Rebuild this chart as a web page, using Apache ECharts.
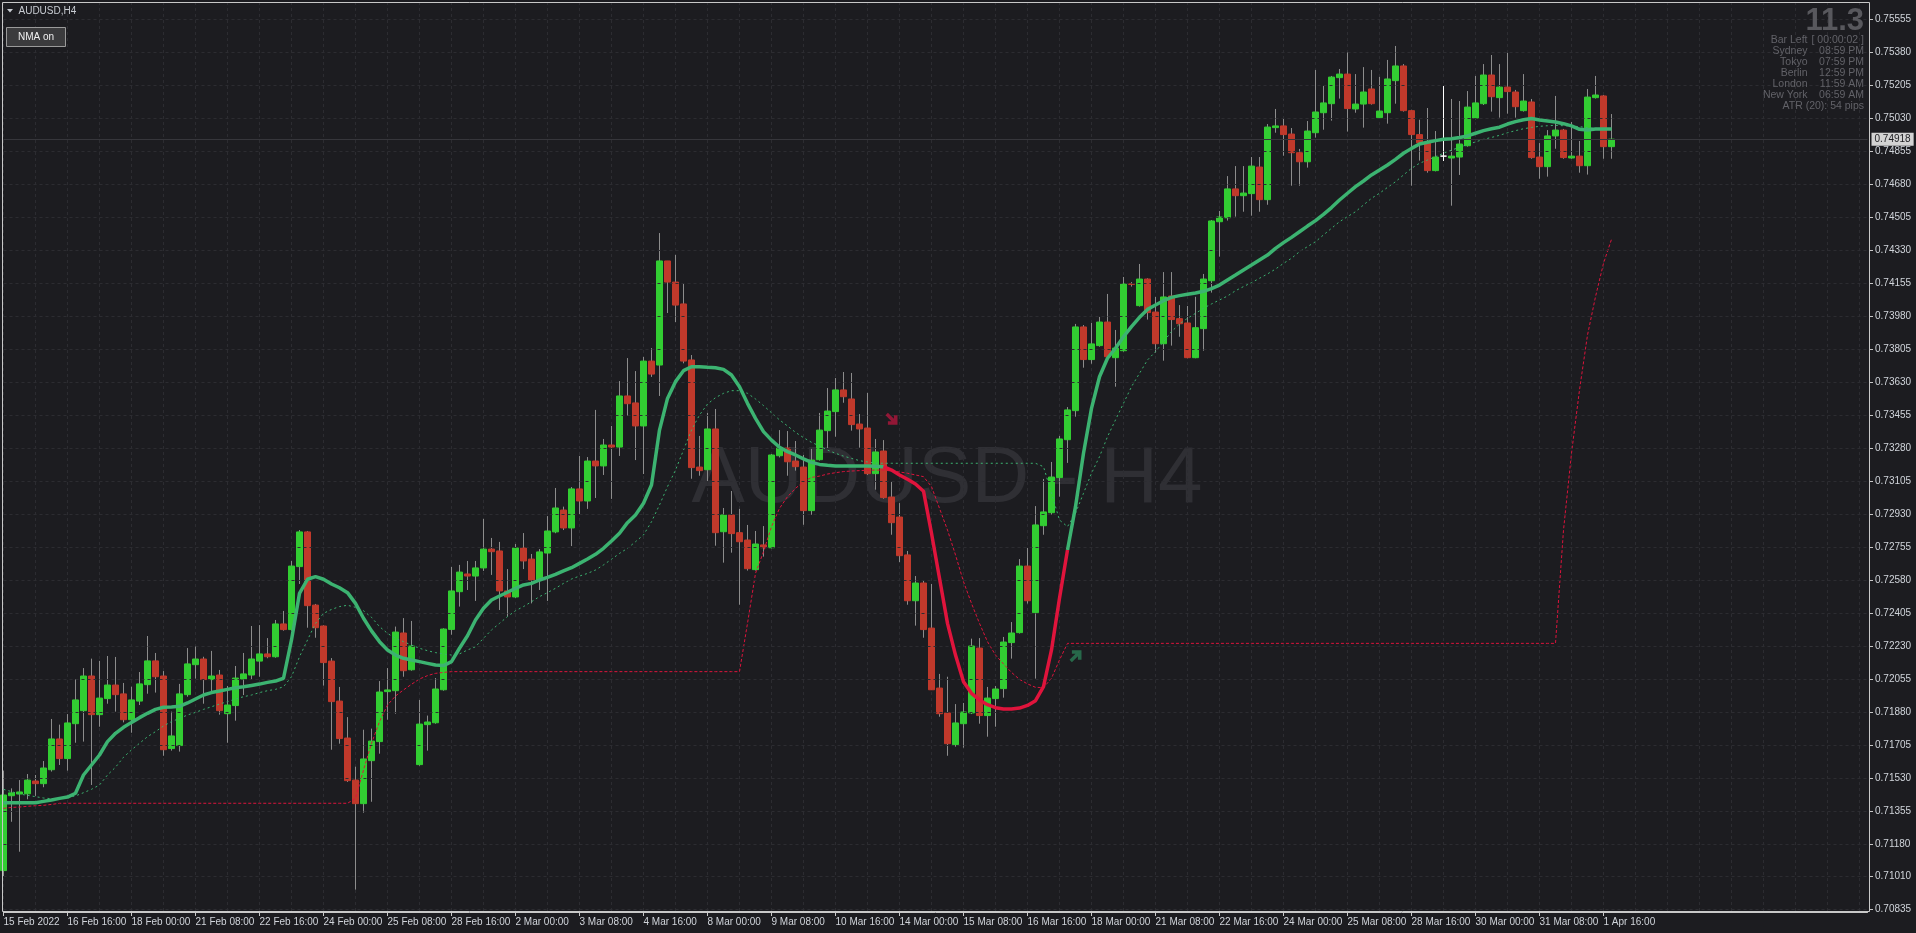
<!DOCTYPE html>
<html>
<head>
<meta charset="utf-8">
<script src="https://cdn.jsdelivr.net/npm/echarts@6/dist/echarts.min.js"></script>
<style>
html,body{margin:0;padding:0;background:#1c1c20;overflow:hidden}
#c{width:1916px;height:933px}
</style>
</head>
<body>
<div id="c"></div>
<script>
// ---------- DATA ----------
const tickLabels = ['15 Feb 2022','16 Feb 16:00','18 Feb 00:00','21 Feb 08:00','22 Feb 16:00','24 Feb 00:00','25 Feb 08:00','28 Feb 16:00','2 Mar 00:00','3 Mar 08:00','4 Mar 16:00','8 Mar 00:00','9 Mar 08:00','10 Mar 16:00','14 Mar 00:00','15 Mar 08:00','16 Mar 16:00','18 Mar 00:00','21 Mar 08:00','22 Mar 16:00','24 Mar 00:00','25 Mar 08:00','28 Mar 16:00','30 Mar 00:00','31 Mar 08:00','1 Apr 16:00'];

const yTicks = [0.75555,0.75380,0.75205,0.75030,0.74855,0.74680,0.74505,0.74330,0.74155,0.73980,0.73805,0.73630,0.73455,0.73280,0.73105,0.72930,0.72755,0.72580,0.72405,0.72230,0.72055,0.71880,0.71705,0.71530,0.71355,0.71180,0.71010,0.70835];

const opens = [
0.71039,0.71436,0.71445,0.71446,0.71514,0.71500,0.71574,0.71737,0.71633,0.71818,
0.71887,0.72071,0.71866,0.71951,0.72023,0.71976,0.71839,0.71938,0.72025,0.72151,
0.72071,0.71686,0.71702,0.71972,0.72131,0.72161,0.72052,0.72076,0.71871,0.71914,
0.72055,0.72076,0.72150,0.72188,0.72173,0.72347,0.72317,0.72651,0.72835,0.72447,
0.72336,0.72150,0.71938,0.71742,0.71519,0.71394,0.71622,0.71723,0.71988,0.71993,
0.72299,0.72104,0.71601,0.71813,0.71823,0.71998,0.72318,0.72518,0.72612,0.72601,
0.72644,0.72744,0.72734,0.72522,0.72490,0.72750,0.72691,0.72580,0.72723,0.72835,
0.72951,0.72856,0.73063,0.72999,0.73211,0.73185,0.73296,0.73285,0.73556,0.73519,
0.73397,0.73741,0.73720,0.74272,0.74160,0.74044,0.73747,0.73179,0.73165,0.73381,
0.72836,0.72925,0.72831,0.72792,0.72635,0.72766,0.72751,0.73239,0.73280,0.73211,
0.73179,0.72948,0.73218,0.73372,0.73473,0.73588,0.73540,0.73407,0.73386,0.73144,
0.73264,0.73020,0.72914,0.72713,0.72470,0.72564,0.72325,0.72007,0.71875,0.71707,
0.71818,0.71875,0.72219,0.71861,0.71951,0.72004,0.72248,0.72301,0.72654,0.72407,
0.72868,0.72937,0.73123,0.73324,0.73478,0.73922,0.73749,0.73823,0.73948,0.73759,
0.73796,0.74150,0.74035,0.74176,0.74001,0.73833,0.74086,0.73966,0.73943,0.73759,
0.73913,0.74167,0.74480,0.74501,0.74654,0.74618,0.74629,0.74770,0.74597,0.74979,
0.74988,0.74945,0.74846,0.74798,0.74952,0.75058,0.75106,0.75244,0.75263,0.75078,
0.75104,0.75184,0.75032,0.75058,0.75228,0.75306,0.75069,0.74942,0.74899,0.74751,
0.74828,0.74818,0.74823,0.74883,0.75030,0.75106,0.75258,0.75138,0.75194,0.75168,
0.75069,0.75115,0.74823,0.74772,0.74935,0.74966,0.74818,0.74828,0.74777,0.75138,
0.75147,0.74878];

const highs = [
0.71569,0.71475,0.71519,0.71551,0.71546,0.71620,0.71843,0.71813,0.71869,0.72055,
0.72113,0.72163,0.72151,0.72177,0.72172,0.72034,0.72014,0.72092,0.72283,0.72193,
0.72097,0.71882,0.72029,0.72219,0.72230,0.72173,0.72204,0.72103,0.72018,0.72124,
0.72193,0.72336,0.72341,0.72272,0.72368,0.72416,0.72681,0.72845,0.72840,0.72453,
0.72340,0.72166,0.72013,0.71853,0.71590,0.71786,0.71792,0.72044,0.72113,0.72333,
0.72378,0.72363,0.71944,0.71861,0.72060,0.72324,0.72649,0.72660,0.72681,0.72681,
0.72904,0.72803,0.72782,0.72638,0.72771,0.72829,0.72718,0.72744,0.72919,0.73068,
0.72969,0.73073,0.73238,0.73232,0.73482,0.73328,0.73397,0.73635,0.73757,0.73688,
0.73763,0.73810,0.74420,0.74272,0.74304,0.74150,0.73773,0.73344,0.73466,0.73487,
0.72962,0.73052,0.72957,0.72872,0.72840,0.72866,0.73248,0.73375,0.73370,0.73317,
0.73243,0.73275,0.73466,0.73598,0.73651,0.73683,0.73678,0.73460,0.73572,0.73328,
0.73322,0.73100,0.72988,0.72734,0.72601,0.72575,0.72559,0.72082,0.72067,0.71922,
0.71928,0.72269,0.72272,0.72013,0.72018,0.72278,0.72357,0.72691,0.72750,0.72972,
0.73116,0.73206,0.73344,0.73497,0.73938,0.73932,0.73943,0.73975,0.74097,0.73906,
0.74187,0.74160,0.74256,0.74180,0.74081,0.74213,0.74213,0.74038,0.74033,0.74082,
0.74203,0.74489,0.74537,0.74722,0.74775,0.74775,0.74823,0.74823,0.74998,0.75078,
0.75025,0.74977,0.74866,0.75014,0.75285,0.75200,0.75253,0.75290,0.75380,0.75263,
0.75300,0.75285,0.75248,0.75338,0.75412,0.75316,0.75074,0.75021,0.75083,0.74961,
0.75200,0.75131,0.75120,0.75173,0.75253,0.75316,0.75364,0.75316,0.75375,0.75179,
0.75263,0.75131,0.74897,0.74966,0.75147,0.74972,0.75009,0.74908,0.75184,0.75253,
0.75152,0.75051];

const lows = [
0.71010,0.71298,0.71139,0.71417,0.71435,0.71481,0.71564,0.71599,0.71569,0.71717,
0.71723,0.71493,0.71802,0.71924,0.71882,0.71825,0.71770,0.71917,0.71977,0.71983,
0.71648,0.71675,0.71670,0.71961,0.72057,0.71924,0.71983,0.71866,0.71717,0.71834,
0.71970,0.72055,0.72067,0.72165,0.72168,0.72311,0.72311,0.72559,0.72327,0.72274,
0.72020,0.71680,0.71712,0.71509,0.70938,0.71346,0.71404,0.71659,0.71839,0.71871,
0.72067,0.72099,0.71595,0.71675,0.71818,0.71993,0.72290,0.72439,0.72527,0.72469,
0.72628,0.72607,0.72421,0.72386,0.72485,0.72638,0.72456,0.72527,0.72469,0.72828,
0.72845,0.72760,0.72930,0.72957,0.73015,0.73137,0.73010,0.73238,0.73450,0.73216,
0.73142,0.73657,0.73556,0.73996,0.73948,0.73729,0.73117,0.73133,0.73101,0.72762,
0.72672,0.72725,0.72449,0.72630,0.72630,0.72704,0.72748,0.73230,0.73133,0.73160,
0.72873,0.72926,0.73213,0.73276,0.73340,0.73520,0.73372,0.73282,0.73137,0.73059,
0.73011,0.72820,0.72675,0.72449,0.72338,0.72274,0.71997,0.71855,0.71648,0.71696,
0.71691,0.71869,0.71818,0.71749,0.71802,0.71956,0.72163,0.72296,0.72455,0.72057,
0.72820,0.72927,0.73022,0.73201,0.73446,0.73706,0.73727,0.73817,0.73759,0.73605,
0.73791,0.74136,0.74030,0.73961,0.73786,0.73743,0.73823,0.73870,0.73756,0.73756,
0.73796,0.74104,0.74295,0.74486,0.74507,0.74533,0.74512,0.74533,0.74570,0.74952,
0.74830,0.74671,0.74671,0.74767,0.74926,0.74968,0.75016,0.75133,0.74958,0.75058,
0.74979,0.75101,0.75027,0.75000,0.75106,0.75064,0.74671,0.74804,0.74740,0.74747,
0.74802,0.74565,0.74728,0.74878,0.75023,0.75099,0.75064,0.75032,0.75053,0.75032,
0.75064,0.74814,0.74708,0.74719,0.74867,0.74814,0.74814,0.74740,0.74730,0.75133,
0.74814,0.74814];

const closes = [
0.71440,0.71451,0.71456,0.71519,0.71500,0.71583,0.71737,0.71633,0.71822,0.71944,
0.72071,0.71866,0.71954,0.72023,0.71972,0.71839,0.71944,0.72029,0.72151,0.72067,
0.71680,0.71753,0.71976,0.72135,0.72161,0.72052,0.72071,0.71887,0.71917,0.72060,
0.72082,0.72161,0.72188,0.72173,0.72347,0.72317,0.72654,0.72835,0.72444,0.72327,
0.72142,0.71935,0.71739,0.71516,0.71394,0.71631,0.71726,0.71986,0.71997,0.72304,
0.72099,0.72230,0.71816,0.71827,0.72002,0.72320,0.72522,0.72622,0.72601,0.72644,
0.72744,0.72730,0.72522,0.72490,0.72750,0.72681,0.72580,0.72729,0.72840,0.72962,
0.72856,0.73063,0.72999,0.73211,0.73185,0.73296,0.73285,0.73556,0.73515,0.73397,
0.73741,0.73672,0.74272,0.74160,0.74038,0.73741,0.73176,0.73160,0.73381,0.72831,
0.72925,0.72826,0.72783,0.72640,0.72771,0.72751,0.73243,0.73280,0.73207,0.73181,
0.72948,0.73216,0.73375,0.73476,0.73588,0.73552,0.73404,0.73381,0.73144,0.73259,
0.73017,0.72884,0.72709,0.72470,0.72564,0.72317,0.71998,0.71871,0.71712,0.71822,
0.71880,0.72230,0.71861,0.71954,0.72002,0.72251,0.72299,0.72654,0.72470,0.72872,
0.72941,0.73126,0.73328,0.73482,0.73922,0.73749,0.73832,0.73948,0.73764,0.73810,
0.74150,0.74148,0.74176,0.73998,0.73833,0.74081,0.73961,0.73939,0.73759,0.73918,
0.74176,0.74484,0.74505,0.74654,0.74618,0.74632,0.74775,0.74597,0.74982,0.74988,
0.74942,0.74846,0.74798,0.74961,0.75062,0.75110,0.75247,0.75263,0.75080,0.75104,
0.75168,0.75106,0.75067,0.75237,0.75306,0.75069,0.74942,0.74899,0.74751,0.74823,
0.74828,0.74828,0.74892,0.75088,0.75110,0.75258,0.75143,0.75194,0.75170,0.75090,
0.75120,0.74820,0.74772,0.74935,0.74966,0.74820,0.74828,0.74777,0.75141,0.75152,
0.74878,0.74918];

// NMA (thick line)
const nma = [
0.71399,0.71399,0.71399,0.71399,0.71399,0.71406,0.71413,0.71422,0.71429,0.71449,
0.71546,0.71599,0.71652,0.71723,0.71767,0.71799,0.71825,0.71850,0.71873,0.71894,
0.71905,0.71907,0.71910,0.71928,0.71949,0.71970,0.71983,0.71991,0.72000,0.72009,
0.72014,0.72021,0.72028,0.72037,0.72044,0.72059,0.72262,0.72509,0.72584,0.72598,
0.72584,0.72559,0.72539,0.72513,0.72456,0.72377,0.72310,0.72253,0.72209,0.72182,
0.72165,0.72156,0.72147,0.72138,0.72129,0.72126,0.72147,0.72218,0.72284,0.72368,
0.72430,0.72474,0.72495,0.72515,0.72536,0.72554,0.72562,0.72580,0.72594,0.72610,
0.72628,0.72645,0.72668,0.72691,0.72716,0.72748,0.72787,0.72828,0.72884,0.72925,
0.72987,0.73084,0.73375,0.73543,0.73632,0.73690,0.73711,0.73711,0.73708,0.73706,
0.73697,0.73667,0.73605,0.73517,0.73437,0.73367,0.73322,0.73284,0.73261,0.73243,
0.73222,0.73204,0.73193,0.73188,0.73185,0.73185,0.73185,0.73185,0.73185,0.73183,
0.73181,0.73163,0.73137,0.73114,0.73089,0.73051,0.72828,0.72589,0.72350,0.72182,
0.72041,0.71979,0.71944,0.71919,0.71903,0.71896,0.71896,0.71901,0.71915,0.71940,
0.72014,0.72209,0.72483,0.72739,0.72969,0.73252,0.73490,0.73658,0.73756,0.73809,
0.73870,0.73924,0.73973,0.74015,0.74038,0.74061,0.74079,0.74088,0.74095,0.74102,
0.74111,0.74125,0.74144,0.74171,0.74197,0.74224,0.74250,0.74277,0.74303,0.74339,
0.74369,0.74397,0.74427,0.74457,0.74486,0.74519,0.74555,0.74595,0.74631,0.74666,
0.74696,0.74728,0.74754,0.74781,0.74811,0.74843,0.74869,0.74892,0.74901,0.74910,
0.74917,0.74920,0.74927,0.74935,0.74949,0.74963,0.74973,0.74981,0.74998,0.75011,
0.75021,0.75027,0.75019,0.75014,0.75009,0.75000,0.74988,0.74970,0.74966,0.74972,
0.74972,0.74972];
const nmaDownFrom = 110;   // first bar of the falling (red) phase
const nmaDownTo = 133;     // last bar of the falling (red) phase

// NMA signal (thin dashed)
const nmaSignal = [
0.71470,0.71458,0.71445,0.71438,0.71431,0.71424,0.71420,0.71422,0.71428,0.71435,
0.71452,0.71470,0.71493,0.71546,0.71587,0.71640,0.71679,0.71714,0.71749,0.71776,
0.71806,0.71829,0.71846,0.71864,0.71878,0.71894,0.71908,0.71922,0.71935,0.71949,
0.71961,0.71970,0.71983,0.71993,0.72000,0.72014,0.72067,0.72173,0.72262,0.72350,
0.72403,0.72424,0.72439,0.72446,0.72435,0.72417,0.72382,0.72333,0.72297,0.72271,
0.72253,0.72235,0.72218,0.72205,0.72195,0.72188,0.72182,0.72188,0.72209,0.72226,
0.72271,0.72315,0.72350,0.72386,0.72417,0.72439,0.72465,0.72492,0.72513,0.72536,
0.72562,0.72585,0.72601,0.72615,0.72633,0.72660,0.72690,0.72721,0.72748,0.72783,
0.72819,0.72889,0.72978,0.73075,0.73163,0.73269,0.73375,0.73455,0.73513,0.73547,
0.73570,0.73584,0.73584,0.73570,0.73540,0.73505,0.73467,0.73429,0.73397,0.73363,
0.73335,0.73310,0.73291,0.73269,0.73252,0.73237,0.73225,0.73213,0.73206,0.73200,
0.73199,0.73199,0.73199,0.73199,0.73199,0.73199,0.73199,0.73199,0.73199,0.73199,
0.73199,0.73199,0.73199,0.73199,0.73199,0.73199,0.73199,0.73199,0.73199,0.73199,
0.73181,0.73040,0.72898,0.72863,0.72934,0.73040,0.73146,0.73234,0.73340,0.73429,
0.73517,0.73605,0.73676,0.73747,0.73791,0.73844,0.73897,0.73938,0.73968,0.73994,
0.74021,0.74044,0.74065,0.74086,0.74114,0.74136,0.74157,0.74180,0.74203,0.74229,
0.74259,0.74286,0.74321,0.74348,0.74374,0.74410,0.74445,0.74480,0.74507,0.74533,
0.74569,0.74604,0.74631,0.74662,0.74692,0.74728,0.74763,0.74790,0.74807,0.74825,
0.74843,0.74860,0.74874,0.74890,0.74903,0.74917,0.74927,0.74938,0.74952,0.74963,
0.74973,0.74980,0.74986,0.74989,0.74991,0.74989,0.74988,0.74984,0.74979,0.74975,
0.74973,0.74972];

// trailing stop (red dotted)
const stopLine = [
0.71369,0.71374,0.71376,0.71380,0.71383,0.71385,0.71390,0.71396,0.71396,0.71396,
0.71396,0.71396,0.71396,0.71396,0.71396,0.71396,0.71396,0.71396,0.71396,0.71396,
0.71396,0.71396,0.71396,0.71396,0.71396,0.71396,0.71396,0.71396,0.71396,0.71396,
0.71396,0.71396,0.71396,0.71396,0.71396,0.71396,0.71396,0.71396,0.71396,0.71396,
0.71396,0.71396,0.71396,0.71396,0.71422,0.71572,0.71714,0.71829,0.71917,0.71965,
0.71997,0.72027,0.72055,0.72073,0.72085,0.72090,0.72094,0.72094,0.72094,0.72094,
0.72094,0.72094,0.72094,0.72094,0.72094,0.72094,0.72094,0.72094,0.72094,0.72094,
0.72094,0.72094,0.72094,0.72094,0.72094,0.72094,0.72094,0.72094,0.72094,0.72094,
0.72094,0.72094,0.72094,0.72094,0.72094,0.72094,0.72094,0.72094,0.72094,0.72094,
0.72094,0.72094,0.72094,0.72350,0.72615,0.72730,0.72863,0.72960,0.73022,0.73066,
0.73101,0.73124,0.73131,0.73142,0.73149,0.73155,0.73158,0.73160,0.73162,0.73163,
0.73163,0.73158,0.73153,0.73146,0.73137,0.73128,0.73075,0.72960,0.72845,0.72713,
0.72571,0.72456,0.72350,0.72253,0.72182,0.72135,0.72090,0.72053,0.72029,0.72011,
0.72009,0.72059,0.72156,0.72244,0.72244,0.72244,0.72244,0.72244,0.72244,0.72244,
0.72244,0.72244,0.72244,0.72244,0.72244,0.72244,0.72244,0.72244,0.72244,0.72244,
0.72244,0.72244,0.72244,0.72244,0.72244,0.72244,0.72244,0.72244,0.72244,0.72244,
0.72244,0.72244,0.72244,0.72244,0.72244,0.72244,0.72244,0.72244,0.72244,0.72244,
0.72244,0.72244,0.72244,0.72244,0.72244,0.72244,0.72244,0.72244,0.72244,0.72244,
0.72244,0.72244,0.72244,0.72244,0.72244,0.72244,0.72244,0.72244,0.72244,0.72244,
0.72244,0.72244,0.72244,0.72244,0.72244,0.72845,0.73252,0.73588,0.73879,0.74082,
0.74259,0.74387];

// signal arrows [bar index, price]
const sellArrow = [111, 0.73435];
const buyArrow = [134, 0.72176];

// info panel texts
const infoNames = ['Bar Left','Sydney','Tokyo','Berlin','London','New York'];
const infoValues = ['[ 00:00:02 ]','08:59 PM','07:59 PM','12:59 PM','11:59 AM','06:59 AM'];
const atrText = 'ATR (20): 54 pips';
const spreadText = '11.3';

const totalSlots = 234;          // bars + empty shift area on the right
const yMin = 0.708194, yMax = 0.756452;

// ---------- CHART ----------
const FONT = "'Liberation Sans', Arial, sans-serif";
const LABEL_COLOR = '#d0d4da';
const GRID_COLOR = '#2c2c31';
const INFO_COLOR = '#626268';
const chart = echarts.init(document.getElementById('c'), null, {renderer: 'canvas', width: 1916, height: 933});

const cats = Array.from({length: totalSlots}, (_, i) => String(i));
const showTick = i => i % 8 === 0 && (i / 8) < tickLabels.length;
const wickData = opens.map((o, i) => [o, closes[i], lows[i], highs[i]]);
const bodyData = opens.map((o, i) => [o, closes[i], Math.min(o, closes[i]), Math.max(o, closes[i])]);
const nmaUp = nma.map((v, i) => (i <= nmaDownFrom || i >= nmaDownTo) ? v : null);
const nmaDown = nma.map((v, i) => (i >= nmaDownFrom && i <= nmaDownTo) ? v : null);
const lastClose = closes[closes.length - 1];
const arrowPath = 'path://M0,2L2,0L7,5L7,2L10,2L10,10L2,10L2,7L5,7Z';

const graphics = [
  {type: 'text', z: 0, x: 947, y: 480, silent: true,
   style: {text: 'AUDUSD - H4', font: '80px ' + FONT, fill: '#2f2f34', textAlign: 'center', textVerticalAlign: 'middle'}},
  {type: 'rect', z: 100, silent: true, shape: {x: 2.5, y: 2.5, width: 1867, height: 909},
   style: {fill: 'transparent', stroke: '#c8c8c8', lineWidth: 1}},
  {type: 'polygon', z: 100, silent: true, shape: {points: [[7, 9], [13, 9], [10, 12.5]]}, style: {fill: '#c8ccd2'}},
  {type: 'text', z: 100, x: 18.5, y: 11, silent: true,
   style: {text: 'AUDUSD,H4', font: '10px ' + FONT, fill: '#c8ccd2', textVerticalAlign: 'middle'}},
  {type: 'rect', z: 100, silent: true, shape: {x: 6.5, y: 27.5, width: 59, height: 19},
   style: {fill: '#3b3b3d', stroke: '#9a9a9a', lineWidth: 1}},
  {type: 'text', z: 101, x: 36, y: 37.5, silent: true,
   style: {text: 'NMA on', font: '10px ' + FONT, fill: '#f0f0f0', textAlign: 'center', textVerticalAlign: 'middle'}},
  {type: 'text', z: 100, x: 1864, y: 21.5, silent: true,
   style: {text: spreadText, font: 'bold 31px ' + FONT, fill: '#58585d', textAlign: 'right', textVerticalAlign: 'middle'}},
  {type: 'text', z: 100, x: 1864, y: 106.5, silent: true,
   style: {text: atrText, font: '10.5px ' + FONT, fill: INFO_COLOR, textAlign: 'right', textVerticalAlign: 'middle'}}
];
infoNames.forEach((n, k) => {
  graphics.push({type: 'text', z: 100, x: 1807.5, y: 40.5 + k * 11, silent: true,
    style: {text: n, font: '10.5px ' + FONT, fill: INFO_COLOR, textAlign: 'right', textVerticalAlign: 'middle'}});
  graphics.push({type: 'text', z: 100, x: 1864, y: 40.5 + k * 11, silent: true,
    style: {text: infoValues[k], font: '10.5px ' + FONT, fill: INFO_COLOR, textAlign: 'right', textVerticalAlign: 'middle'}});
});

const option = {
  backgroundColor: '#1c1c20',
  animation: false,
  graphic: {elements: graphics},
  grid: {left: 3.5, right: 48.5, top: 2, bottom: 21, containLabel: false},
  xAxis: {
    type: 'category', data: cats, boundaryGap: false,
    axisLine: {show: true, lineStyle: {color: '#c8c8c8'}},
    axisTick: {show: true, interval: (i) => showTick(i), length: 4, lineStyle: {color: '#c8c8c8'}},
    axisLabel: {interval: (i) => showTick(i), formatter: (v, i) => tickLabels[i / 8] || '',
      align: 'left', margin: 5, color: LABEL_COLOR, fontSize: 10, fontFamily: FONT},
    splitLine: {show: true, interval: (i) => i % 4 === 0, lineStyle: {color: GRID_COLOR, type: [3, 3], width: 1}}
  },
  yAxis: {
    type: 'value', position: 'right', offset: 2.5, min: yMin, max: yMax,
    axisLine: {show: false},
    axisTick: {show: true, customValues: yTicks, length: 3, lineStyle: {color: '#c8c8c8'}},
    axisLabel: {customValues: yTicks, formatter: (v) => v.toFixed(5), color: LABEL_COLOR,
      fontSize: 10, fontFamily: FONT, margin: 5},
    splitLine: {show: false}
  },
  series: [
    { // helper carrying the horizontal grid and price line
      type: 'line', data: closes, z: 1, silent: true, symbol: 'none',
      lineStyle: {width: 0, opacity: 0},
      markLine: {
        silent: true, symbol: ['none', 'none'], animation: false, precision: 5,
        label: {show: false},
        lineStyle: {color: GRID_COLOR, type: [3, 3], width: 1},
        data: yTicks.map(v => ({yAxis: v})).concat([{
          yAxis: lastClose,
          lineStyle: {color: '#36363b', type: 'solid', width: 1},
          label: {show: true, position: 'end', formatter: lastClose.toFixed(5), distance: 4,
            color: '#1c1c20', backgroundColor: '#d2d2d2', padding: [2, 3, 1, 3],
            fontSize: 10, fontFamily: FONT}
        }])
      }
    },
    { // wicks
      type: 'candlestick', data: wickData, barWidth: 1, z: 2, silent: true,
      itemStyle: {color: '#8c8c8c', color0: '#8c8c8c', borderColor: '#8c8c8c', borderColor0: '#8c8c8c',
        borderColorDoji: '#ffffff', borderWidth: 1}
    },
    { // bodies
      type: 'candlestick', data: bodyData, barWidth: 6, z: 3, silent: true,
      itemStyle: {color: '#32cd32', color0: '#c0392b', borderColor: '#32cd32', borderColor0: '#c0392b',
        borderColorDoji: '#ffffff', borderWidth: 1}
    },
    {type: 'line', data: stopLine, z: 4, symbol: 'none', silent: true,
      lineStyle: {color: '#dc143c', width: 1, type: [3, 2]}},
    {type: 'line', data: nmaSignal, z: 4, symbol: 'none', silent: true,
      lineStyle: {color: '#3cb371', width: 1, type: [2, 3]}},
    {type: 'line', data: nmaUp, z: 5, symbol: 'none', silent: true, connectNulls: false,
      lineStyle: {color: '#3cb371', width: 3.5}},
    {type: 'line', data: nmaDown, z: 5, symbol: 'none', silent: true, connectNulls: false,
      lineStyle: {color: '#e0143c', width: 3.5}},
    {type: 'scatter', data: [sellArrow], z: 6, silent: true, symbol: arrowPath, symbolSize: 12,
      itemStyle: {color: '#b0173c'}},
    {type: 'scatter', data: [buyArrow], z: 6, silent: true, symbol: arrowPath, symbolSize: 12,
      symbolRotate: 90, itemStyle: {color: '#2b7d55'}}
  ]
};
chart.setOption(option);
</script>
</body>
</html>
